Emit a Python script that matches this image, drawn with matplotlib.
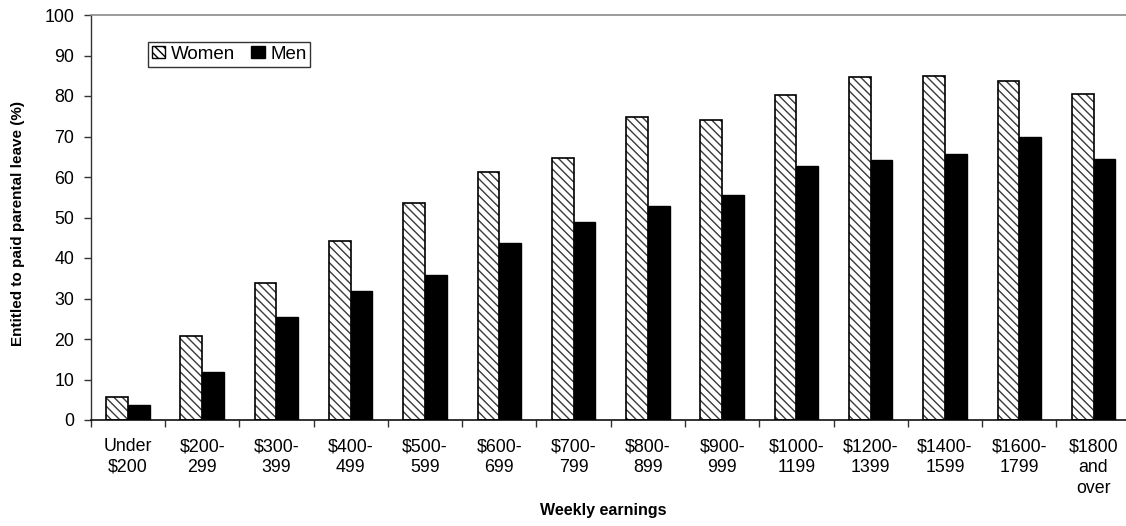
import matplotlib
matplotlib.use("Agg")
import matplotlib.pyplot as plt
from matplotlib.patches import Patch
import numpy as np

# Share of employees entitled to paid parental leave, by weekly earnings
categories = ["Under\n$200", "$200-\n299", "$300-\n399", "$400-\n499", "$500-\n599",
              "$600-\n699", "$700-\n799", "$800-\n899", "$900-\n999", "$1000-\n1199",
              "$1200-\n1399", "$1400-\n1599", "$1600-\n1799", "$1800\nand\nover"]
women = [5.8, 20.8, 33.9, 44.2, 53.7, 61.3, 64.8, 74.9, 74.1, 80.2, 84.7, 84.9, 83.8, 80.5]
men = [3.8, 11.9, 25.4, 31.8, 35.7, 43.8, 48.8, 52.9, 55.6, 62.8, 64.3, 65.6, 70.0, 64.4]
yticks = list(range(0, 101, 10))

plt.rcParams["font.family"] = ["Liberation Sans", "DejaVu Sans"]
plt.rcParams["hatch.linewidth"] = 1.0

W, H = 1126, 526
fig = plt.figure(figsize=(W / 100, H / 100), dpi=100)
ax = fig.add_axes([90.7 / W, 106 / H, 1040 / W, 405 / H])

x = np.arange(len(categories))
bw = 0.292
ax.bar(x - bw / 2, women, width=bw, color="white", edgecolor="#3a3a3a",
       hatch="\\\\\\\\", linewidth=0, zorder=2)
ax.bar(x - bw / 2, women, width=bw, fill=False, edgecolor="black",
       linewidth=1.2, zorder=3)
ax.bar(x + bw / 2, men, width=bw, color="black", edgecolor="black",
       linewidth=1.0, zorder=3)

tick_fs = 12.8
ax.set_xlim(-0.5, len(categories) - 0.5)
ax.set_ylim(0, 100)
ax.set_yticks(yticks)
ax.tick_params(axis="y", direction="out", length=5, width=1, labelsize=tick_fs,
               pad=7, color="#333333")
ax.set_xticks(x)
ax.set_xticklabels(categories, fontsize=tick_fs, linespacing=1.3)
ax.set_xticks(np.arange(len(categories) + 1) - 0.5, minor=True)
ax.tick_params(axis="x", which="major", length=0, pad=13)
ax.tick_params(axis="x", which="minor", direction="out", length=5, width=1,
               color="#333333")

ax.spines["right"].set_visible(False)
ax.spines["top"].set_color("#8a8a8a")
ax.spines["top"].set_linewidth(1.2)
ax.spines["left"].set_color("#333333")
ax.spines["bottom"].set_color("#111111")
ax.spines["left"].set_linewidth(1.0)
ax.spines["bottom"].set_linewidth(1.2)

fig.text(18 / W, 1 - 223 / H, "Entitled to paid parental leave (%)", rotation=90,
         ha="center", va="center", fontsize=11, fontweight="bold")
fig.text(603 / W, 1 - 510 / H, "Weekly earnings", ha="center", va="center",
         fontsize=11.5, fontweight="bold")

handles = [
    Patch(facecolor="white", edgecolor="black", hatch="\\\\\\\\", linewidth=1.0, label="Women"),
    Patch(facecolor="black", edgecolor="black", label="Men"),
]
leg = ax.legend(handles=handles, loc="upper left", ncol=2, fontsize=13.5,
                frameon=True, fancybox=False, shadow=False,
                bbox_to_anchor=((148 - 90.7) / 1040, (420 - 42) / 405),
                handlelength=0.72, handleheight=0.66, handletextpad=0.3,
                columnspacing=0.85, borderpad=0.2, borderaxespad=0)
leg.get_frame().set_edgecolor("black")
leg.get_frame().set_linewidth(1.0)

fig.savefig("out.png", dpi=100)
